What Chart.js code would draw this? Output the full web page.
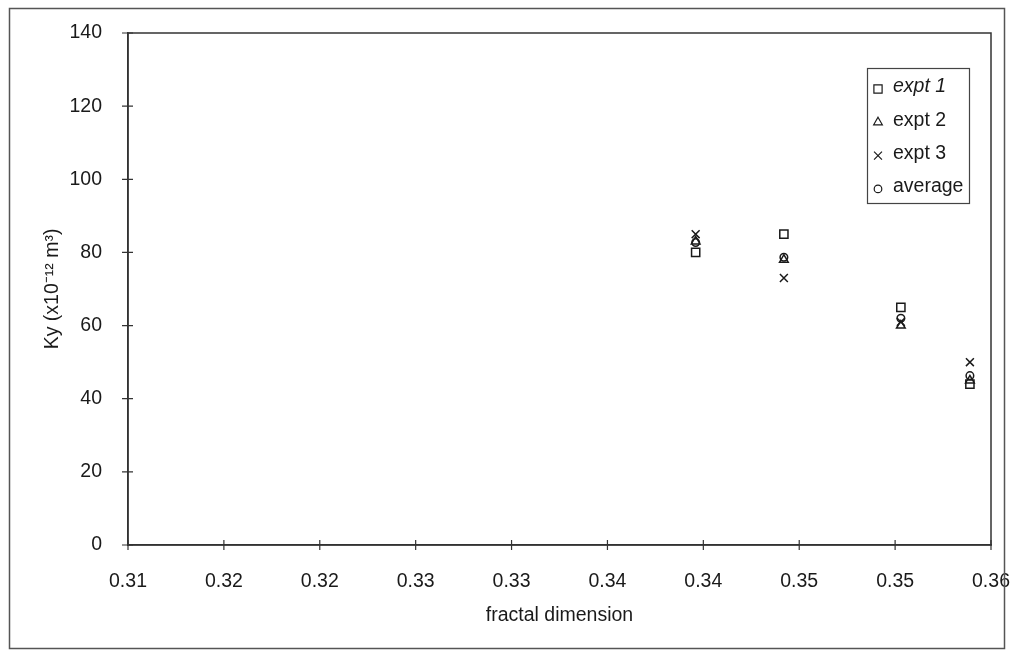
<!DOCTYPE html>
<html>
<head>
<meta charset="utf-8">
<script src="https://cdn.jsdelivr.net/npm/chart.js@4/dist/chart.umd.min.js"></script>
<style>
  html, body { margin: 0; padding: 0; background: #fff; }
  canvas { display: block; }
</style>
</head>
<body>
<canvas id="ky_plot" width="1013" height="656"></canvas>
<script>
// x axis labels as printed (two decimals, step 0.005)
const xTickLabels = ['0.31', '0.32', '0.32', '0.33', '0.33', '0.34', '0.34', '0.35', '0.35', '0.36'];
const fractalDim = [0.3396, 0.3442, 0.3503, 0.3539];
const expt1 = [80, 85, 65, 44];
const expt2 = [83, 78, 60, 45];
const expt3 = [85, 73, 61, 50];
const average = [82.7, 78.7, 62, 46.3];

const FONT = '"Liberation Sans", Arial, sans-serif';
const INK = '#1a1a1a';

function pts(ys) {
    return fractalDim.map((x, i) => ({ x: x, y: ys[i] }));
}

function series(label, ys, style, r, italic) {
    return {
        label: label,
        data: pts(ys),
        pointStyle: style,
        pointRadius: r,
        pointHoverRadius: r,
        pointBorderWidth: 1.5,
        pointBorderColor: INK,
        pointBackgroundColor: 'rgba(0,0,0,0)',
        showLine: false,
        italic: italic
    };
}

// frame around the whole figure, plot box and cross ticks
const framePlugin = {
    id: 'frame',
    afterDraw(chart) {
        const ctx = chart.ctx;
        const a = chart.chartArea;
        ctx.save();
        ctx.strokeStyle = '#555';
        ctx.lineWidth = 1.5;
        ctx.strokeRect(9.5, 8.5, 995, 640);
        ctx.strokeStyle = '#333';
        ctx.strokeRect(a.left, a.top, a.right - a.left, a.bottom - a.top);
        ctx.lineWidth = 1.2;
        const xs = chart.scales.x, ys = chart.scales.y;
        ctx.beginPath();
        xs.ticks.forEach((t, i) => {
            const px = xs.getPixelForTick(i);
            ctx.moveTo(px, a.bottom - 5);
            ctx.lineTo(px, a.bottom + 5);
        });
        ys.ticks.forEach((t, i) => {
            const py = ys.getPixelForTick(i);
            ctx.moveTo(a.left - 6, py);
            ctx.lineTo(a.left + 5, py);
        });
        ctx.stroke();
        ctx.restore();
    }
};

// boxed legend in the upper right corner of the plot
const legendBox = {
    id: 'legendBox',
    afterDraw(chart) {
        const ctx = chart.ctx;
        ctx.save();
        ctx.strokeStyle = '#444';
        ctx.lineWidth = 1.2;
        ctx.strokeRect(867.5, 68.5, 102, 135);
        chart.data.datasets.forEach((ds, i) => {
            const y = 87 + i * 33.3;
            ctx.strokeStyle = INK;
            ctx.fillStyle = 'rgba(0,0,0,0)';
            Chart.helpers.drawPoint(ctx, {
                pointStyle: ds.pointStyle,
                radius: ds.pointRadius,
                borderWidth: 1.4,
                rotation: 0
            }, 878, y + 2);
            ctx.fillStyle = INK;
            ctx.font = (ds.italic ? 'italic ' : '') + '19.5px ' + FONT;
            ctx.textBaseline = 'middle';
            ctx.textAlign = 'left';
            ctx.fillText(ds.label, 893, y);
        });
        ctx.restore();
    }
};

Chart.defaults.font.family = FONT;
Chart.defaults.font.size = 19.5;
Chart.defaults.color = INK;

new Chart(document.getElementById('ky_plot'), {
    type: 'scatter',
    data: {
        datasets: [
            series('expt 1', expt1, 'rect', 5.8, true),
            series('expt 2', expt2, 'triangle', 5, false),
            series('expt 3', expt3, 'crossRot', 5.6, false),
            series('average', average, 'circle', 3.8, false)
        ]
    },
    options: {
        responsive: false,
        animation: false,
        layout: { padding: { top: 33, right: 22, bottom: 0, left: 0 } },
        plugins: {
            legend: { display: false },
            tooltip: { enabled: false }
        },
        scales: {
            x: {
                type: 'linear',
                min: 0.31,
                max: 0.355,
                afterFit: s => {
                    s.height = 111;
                    s.paddingLeft = 0;
                    s.paddingRight = 0;
                },
                grid: { display: false },
                border: { display: true, color: '#333', width: 1.5 },
                ticks: {
                    stepSize: 0.005,
                    autoSkip: false,
                    maxRotation: 0,
                    padding: 17,
                    callback: (v, i) => xTickLabels[i]
                },
                title: {
                    display: true,
                    text: 'fractal dimension',
                    padding: { top: 0, bottom: 29 }
                }
            },
            y: {
                type: 'linear',
                min: 0,
                max: 140,
                afterFit: s => { s.width = 128; },
                grid: { display: false },
                border: { display: true, color: '#333', width: 1.5 },
                ticks: { stepSize: 20, padding: 18 },
                title: {
                    display: true,
                    text: 'Ky (x10⁻¹² m³)',
                    padding: { top: 41, bottom: 0 }
                }
            }
        }
    },
    plugins: [framePlugin, legendBox]
});
</script>
</body>
</html>
